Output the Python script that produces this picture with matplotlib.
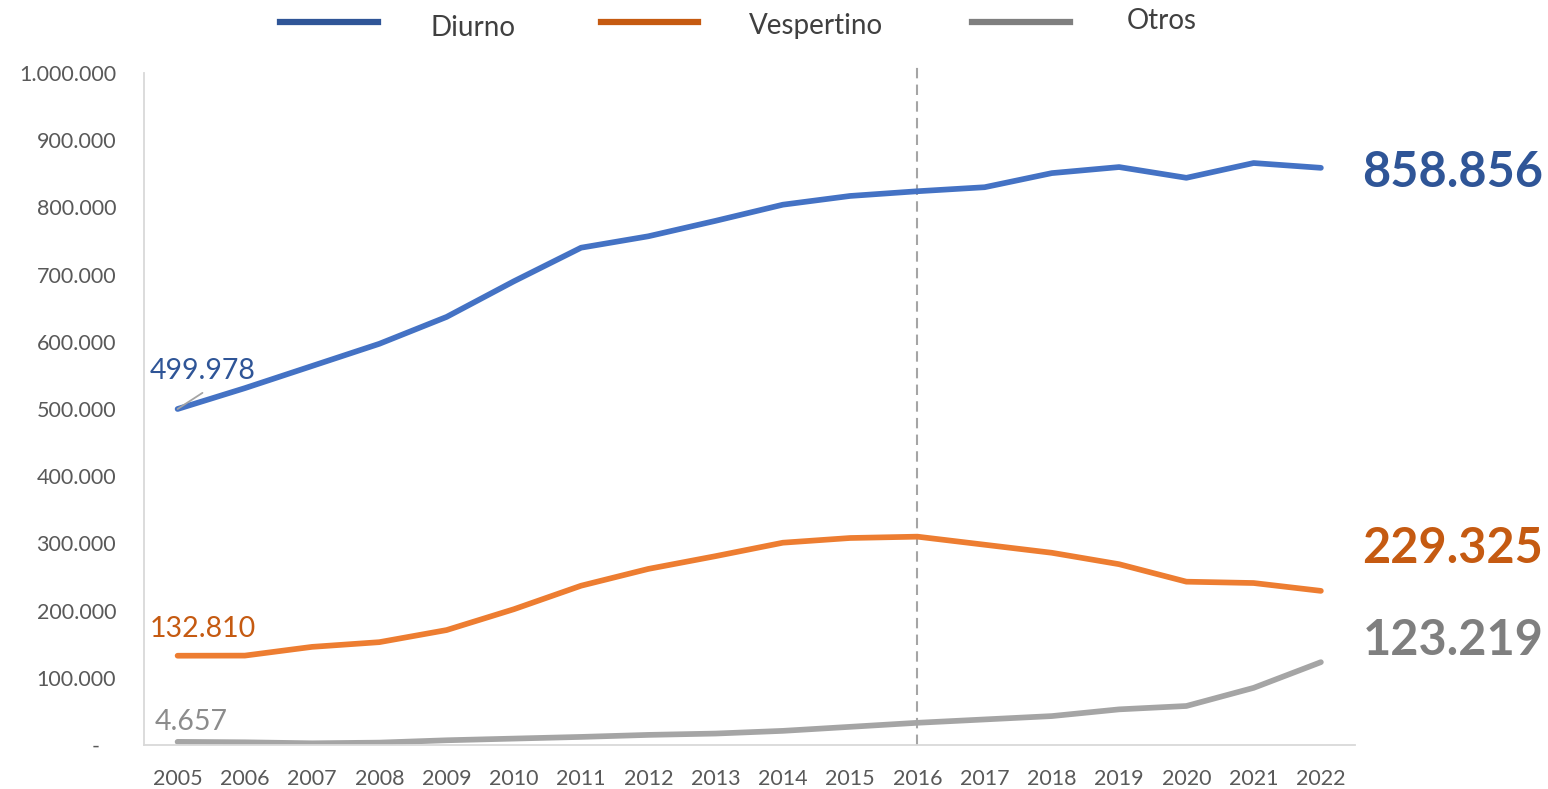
import matplotlib.pyplot as plt
from matplotlib.lines import Line2D
from matplotlib.ticker import FuncFormatter, MultipleLocator
import matplotlib.transforms as mtransforms

plt.rcParams['font.family'] = ['Lato', 'DejaVu Sans']

years = list(range(2005, 2023))
diurno = [499978, 531000, 564000, 597000, 637000, 690000, 740000, 757000, 780000,
          804000, 817000, 824000, 830000, 851000, 860000, 844000, 866000, 858856]
vespertino = [132810, 133000, 146000, 153000, 171000, 202000, 237000, 262000, 281000,
              301000, 308000, 310000, 298000, 286000, 269000, 243000, 241000, 229325]
otros = [4657, 4000, 2500, 3500, 7000, 9500, 12000, 15000, 17000,
         21000, 27000, 33000, 38000, 43000, 53000, 58000, 85000, 123219]

names = ['Diurno', 'Vespertino', 'Otros']
line_colors = ['#4472C4', '#ED7D31', '#A5A5A5']
dark_colors = ['#2F5597', '#C55A11', '#7F7F7F']


def fmt(v):
    return f"{v:,.0f}".replace(",", ".")


fig = plt.figure(figsize=(15.48, 7.89), dpi=100)
ax = fig.add_axes([0.093, 0.0558, 0.782, 0.8517])

for series, c in zip([diurno, vespertino, otros], line_colors):
    ax.plot(years, series, color=c, lw=4.1, solid_capstyle='round', solid_joinstyle='round')

ax.set_xlim(2004.5, 2022.5)
ax.set_ylim(0, 1000000)
ax.yaxis.set_major_locator(MultipleLocator(100000))
ax.yaxis.set_major_formatter(FuncFormatter(lambda v, p: "-   " if v == 0 else fmt(v)))
ax.set_xticks(years)
ax.tick_params(axis='y', length=0, pad=20, labelsize=15.5, labelcolor='#595959')
ax.tick_params(axis='x', length=0, pad=17, labelsize=15.5, labelcolor='#595959')
for s in ['top', 'right']:
    ax.spines[s].set_visible(False)
for s in ['left', 'bottom']:
    ax.spines[s].set_color('#D9D9D9')
    ax.spines[s].set_linewidth(1.3)

# dashed marker at 2016
ax.axvline(2016, ymin=0, ymax=1.015, color='#A5A5A5', lw=1.5, ls=(0, (5, 3)), clip_on=False, zorder=0)

# first-year labels
ax.annotate('', xy=(years[0], diurno[0]), xytext=(2005.37, 524000),
            arrowprops=dict(arrowstyle='-', color='#A5A5A5', lw=1.3, shrinkA=0, shrinkB=0))
ax.text(2004.58, 557000, fmt(diurno[0]), fontsize=20.5, color=dark_colors[0], va='center', ha='left')
ax.text(2004.58, 173000, fmt(vespertino[0]), fontsize=20.5, color=dark_colors[1], va='center', ha='left')
ax.text(2004.66, 34000, fmt(otros[0]), fontsize=20.5, color='#8C8C8C', va='center', ha='left')

# last-year labels
trans = mtransforms.blended_transform_factory(fig.transFigure, ax.transData)
last_pos = [852000, 292000, 155000]
for series, c, yp in zip([diurno, vespertino, otros], dark_colors, last_pos):
    ax.text(0.997, yp, fmt(series[-1]), transform=trans, fontsize=35, fontweight='bold',
            color=c, ha='right', va='center')

# legend drawn at top
leg_lines = [(0.181, 0.244), (0.388, 0.451), (0.628, 0.691)]
leg_text = [(0.278, 0.964), (0.484, 0.967), (0.728, 0.973)]
for (x0, x1), (tx, ty), name, c in zip(leg_lines, leg_text, names, dark_colors):
    fig.add_artist(Line2D([x0, x1], [0.972, 0.972], color=c, lw=4.5, transform=fig.transFigure))
    fig.text(tx, ty, name, fontsize=20, color='#404040', ha='left', va='center')

fig.savefig('out.png', dpi=100)
